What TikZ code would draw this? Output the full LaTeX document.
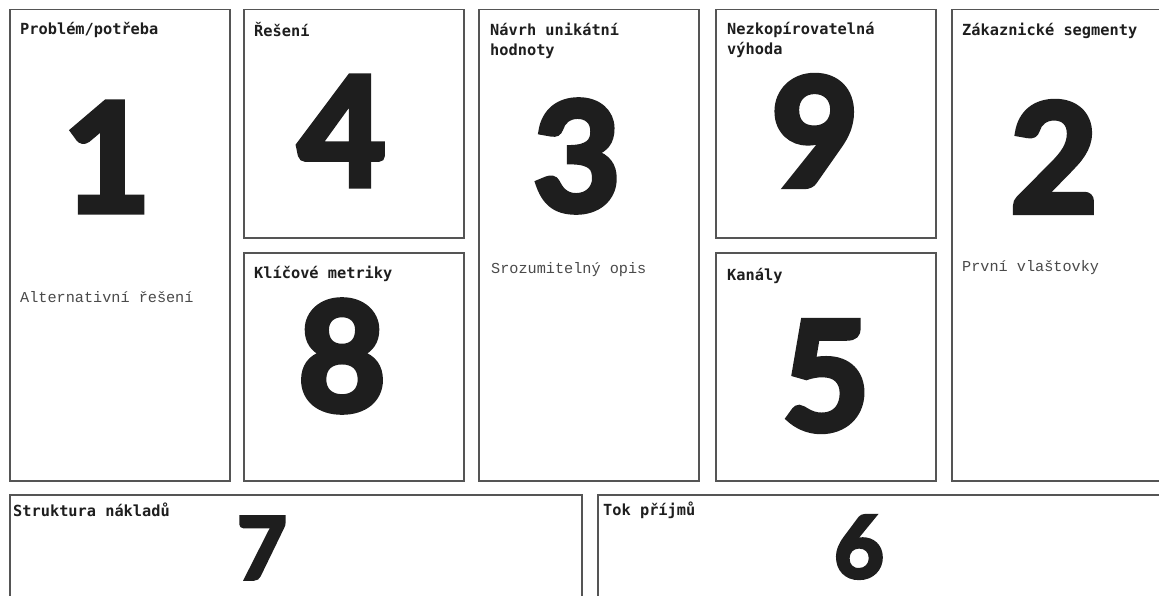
\documentclass[tikz,border=0pt]{standalone}
\usepackage{fontspec}
\newfontfamily\titlefont{DejaVu Sans Mono}
\newfontfamily\bodyfont{Liberation Mono}
\newfontfamily\numfont{Lato}[BoldFeatures={FakeBold=4}]
\definecolor{frame}{HTML}{555555}
\definecolor{ink}{HTML}{1E1E1E}
\definecolor{soft}{HTML}{4A4A4A}
\tikzset{
  box/.style={draw=frame, line width=1.5pt, fill=white, anchor=north west, inner sep=0pt},
  ttl/.style={font=\titlefont\bfseries\fontsize{15.3}{20}\selectfont, text=ink, anchor=north west, align=left, inner sep=0pt},
  txt/.style={font=\bodyfont\fontsize{15.2}{18}\selectfont, text=soft, anchor=west, inner sep=0pt},
  bignum/.style={font=\numfont\bfseries\fontsize{151}{160}\selectfont, text=ink, inner sep=0pt},
  midnum/.style={font=\numfont\bfseries\fontsize{86}{95}\selectfont, text=ink, inner sep=0pt}
}
\begin{document}
\begin{tikzpicture}[x=1pt,y=-1pt]
\useasboundingbox (0,0) rectangle (1159,596);
\fill[white] (0,0) rectangle (1159,596);
\clip (0,0) rectangle (1159,596);
% boxes
\node[box, minimum width=220pt, minimum height=471pt] (b1) at (9,9) {};
\node[box, minimum width=220pt, minimum height=228pt] (b4) at (243,9) {};
\node[box, minimum width=220pt, minimum height=228pt] (b8) at (243,252) {};
\node[box, minimum width=220pt, minimum height=471pt] (b3) at (478,9) {};
\node[box, minimum width=220pt, minimum height=228pt] (b9) at (715,9) {};
\node[box, minimum width=220pt, minimum height=228pt] (b5) at (715,252) {};
\node[box, minimum width=230pt, minimum height=471pt] (b2) at (951,9) {};
\node[box, minimum width=572pt, minimum height=140pt] (b7) at (9,494) {};
\node[box, minimum width=580pt, minimum height=140pt] (b6) at (597,494) {};
% titles
\node[ttl] (t1) at (20,22.5) {Problém/potřeba};
\node[ttl] (t4) at (254,22.5) {Řešení};
\node[ttl] (t3) at (490,22.5) {Návrh unikátní\\hodnoty};
\node[ttl] (t9) at (727,22.5) {Nezkopírovatelná\\výhoda};
\node[ttl] (t2) at (962,22.5) {Zákaznické segmenty};
\node[ttl] (t8) at (254,266) {Klíčové metriky};
\node[ttl] (t5) at (727,268) {Kanály};
\node[ttl] (t7) at (13,503) {Struktura nákladů};
\node[ttl] (t6) at (603,502) {Tok příjmů};
% body texts
\node[txt] (d1) at (20,297) {Alternativní řešení};
\node[txt] (d3) at (491,270) {Srozumitelný opis};
\node[txt] (d2) at (962,268) {První vlaštovky};
% numbers
\node[bignum] (n1) at (107,157) {1};
\node[bignum] (n4) at (342,131) {4};
\node[bignum] (n8) at (342,356) {8};
\node[bignum] (n3) at (577,156) {3};
\node[bignum] (n9) at (815,131) {9};
\node[bignum] (n5) at (826,376) {5};
\node[bignum] (n2) at (1054,157) {2};
\node[midnum] (n7) at (262,548) {7};
\node[midnum] (n6) at (859,547) {6};
\end{tikzpicture}
\end{document}
